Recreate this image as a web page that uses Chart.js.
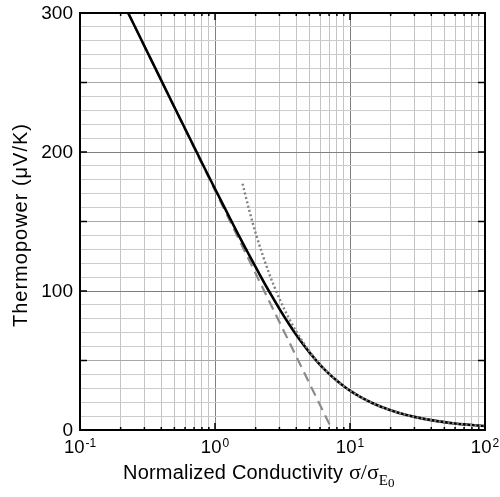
<!DOCTYPE html>
<html>
<head>
<meta charset="utf-8">
<script src="https://cdn.jsdelivr.net/npm/chart.js@4.4.1/dist/chart.umd.min.js"></script>
<style>
  html, body { margin: 0; padding: 0; background: #fff; }
  #wrap { width: 500px; height: 497px; }
</style>
</head>
<body>
<div id="wrap"><canvas id="c"></canvas></div>
<script>
const SANS = "'Liberation Sans', Arial, sans-serif";
const SERIF = "'Liberation Serif', 'Times New Roman', serif";

const X_DECADES = [0.1, 1, 10, 100];
const X_EXPONENTS = ["-1", "0", "1", "2"];
const Y_LABELS = [0, 100, 200, 300];

// full (Fermi-Dirac) curve, solid black
const FULL_X = [0.2014, 0.3133, 0.4741, 0.6931, 0.8259, 0.9741, 1.1369, 1.3133, 1.5019, 1.7014,
  1.9102, 2.1269, 2.3502, 2.5789, 3.0486, 3.5298, 4.018, 4.511, 5.0067, 6.0025,
  7.0009, 8.0003, 9, 10, 12, 15, 20, 25, 30, 40, 50, 60, 70, 80, 100];
const FULL_S = [310.5, 272.5, 236.9, 204.5, 189.6, 175.7, 162.8, 150.9, 139.9, 129.9,
  120.7, 112.4, 104.8, 98.0, 86.1, 76.3, 68.2, 61.5, 55.8, 46.9,
  40.4, 35.4, 31.5, 28.3, 23.6, 18.9, 14.2, 11.3, 9.45, 7.09, 5.67, 4.72, 4.05, 3.54, 2.83];

// non-degenerate limit, dashed
const NONDEG_X = [0.2274, 0.5, 1, 2, 4, 7.389];
const NONDEG_S = [300, 232.1, 172.3, 112.6, 52.9, 0];

// degenerate limit, dotted
const DEG_X = [1.6, 1.8, 2, 2.5, 3, 3.5, 4, 5, 6, 8, 10, 15, 20, 30, 50, 70, 100];
const DEG_S = [177.2, 157.5, 141.7, 113.4, 94.5, 81.0, 70.9, 56.7, 47.2, 35.4, 28.3, 18.9, 14.2, 9.45, 5.67, 4.05, 2.83];

const pts = (xs, ys) => xs.map((x, i) => ({ x, y: ys[i] }));

const xTicks = [];
X_DECADES.forEach((d, i) => {
  xTicks.push(d);
  if (i < X_DECADES.length - 1) for (let m = 2; m <= 9; m++) xTicks.push(+(d * m).toPrecision(3));
});
const yTicks = [];
for (let v = 0; v <= 300; v += 10) yTicks.push(v);

const isDecade = (v) => X_DECADES.some((d) => Math.abs(d - v) < 1e-9);

const decor = {
  id: "decor",
  afterDraw(chart) {
    const { ctx, chartArea: a, scales } = chart;
    const xs = scales.x, ys = scales.y;
    ctx.save();
    ctx.strokeStyle = "#000";
    ctx.lineWidth = 2;
    ctx.strokeRect(a.left, a.top, a.right - a.left, a.bottom - a.top);

    // inward ticks
    ctx.lineWidth = 1.5;
    ctx.beginPath();
    xTicks.forEach((v) => {
      const px = xs.getPixelForValue(v);
      const len = isDecade(v) ? 7 : 3;
      ctx.moveTo(px, a.top); ctx.lineTo(px, a.top + len);
      ctx.moveTo(px, a.bottom); ctx.lineTo(px, a.bottom - len);
    });
    for (let v = 0; v <= 300; v += 50) {
      const py = ys.getPixelForValue(v);
      ctx.moveTo(a.left, py); ctx.lineTo(a.left + 7, py);
      ctx.moveTo(a.right, py); ctx.lineTo(a.right - 7, py);
    }
    ctx.stroke();

    ctx.fillStyle = "#000";
    // y labels
    ctx.font = "19px " + SANS;
    ctx.textAlign = "right";
    ctx.textBaseline = "middle";
    Y_LABELS.forEach((v) => ctx.fillText(String(v), a.left - 7, ys.getPixelForValue(v) + 1));

    // x labels 10^n
    ctx.textBaseline = "alphabetic";
    ctx.textAlign = "left";
    X_DECADES.forEach((d, i) => {
      ctx.font = "18.5px " + SANS;
      const wb = ctx.measureText("10").width;
      ctx.font = "12px " + SANS;
      const we = ctx.measureText(X_EXPONENTS[i]).width;
      const x0 = xs.getPixelForValue(d) - (wb + we + 1) / 2;
      const base = a.bottom + 23;
      ctx.font = "18.5px " + SANS;
      ctx.fillText("10", x0, base);
      ctx.font = "12px " + SANS;
      ctx.fillText(X_EXPONENTS[i], x0 + wb + 1, base - 6);
    });

    // x title
    let tx = 123;
    const tb = 479;
    const part = (t, font, dy, sp) => {
      ctx.font = font;
      ctx.letterSpacing = (sp || 0) + "px";
      ctx.fillText(t, tx, tb + (dy || 0));
      tx += ctx.measureText(t).width;
    };
    part("Normalized Conductivity ", "20px " + SANS, 0, 0.2);
    part("σ/σ", "22px " + SERIF);
    part("E", "15px " + SERIF, 6);
    part("0", "13px " + SERIF, 8);
    ctx.letterSpacing = "0px";

    // y title
    ctx.translate(21, 225);
    ctx.rotate(-Math.PI / 2);
    ctx.textAlign = "center";
    ctx.textBaseline = "middle";
    ctx.font = "20px " + SANS;
    ctx.letterSpacing = "1px";
    ctx.fillText("Thermopower (μV/K)", 0, 0);
    ctx.restore();
  },
};

new Chart(document.getElementById("c"), {
  type: "line",
  data: {
    datasets: [
      { data: pts(DEG_X, DEG_S), borderColor: "#808080", borderWidth: 2.4, borderDash: [2, 2.5], order: 0 },
      { data: pts(FULL_X, FULL_S), borderColor: "#000", borderWidth: 2.6, order: 1 },
      { data: pts(NONDEG_X, NONDEG_S), borderColor: "#8a8a8a", borderWidth: 2.2, borderDash: [10, 6], order: 2 },
    ],
  },
  options: {
    responsive: true,
    maintainAspectRatio: false,
    animation: false,
    layout: { padding: { left: 80, right: 15, top: 13, bottom: 67 } },
    elements: { point: { radius: 0 }, line: { cubicInterpolationMode: "monotone", fill: false } },
    plugins: { legend: { display: false }, tooltip: { enabled: false } },
    scales: {
      x: {
        type: "logarithmic",
        min: 0.1,
        max: 100,
        afterBuildTicks: (s) => { s.ticks = xTicks.map((value) => ({ value })); },
        afterFit: (s) => { s.height = 0; },
        ticks: { display: false, autoSkip: false },
        border: { display: false },
        grid: {
          drawTicks: false,
          color: (c) => (isDecade(c.tick.value) ? "#808080" : "#c4c4c4"),
          lineWidth: 1,
        },
      },
      y: {
        min: 0,
        max: 300,
        afterBuildTicks: (s) => { s.ticks = yTicks.map((value) => ({ value })); },
        afterFit: (s) => { s.width = 0; },
        ticks: { display: false, autoSkip: false },
        border: { display: false },
        grid: {
          drawTicks: false,
          color: (c) => (c.tick.value % 100 === 0 ? "#808080" : c.tick.value % 50 === 0 ? "#a8a8a8" : "#cccccc"),
          lineWidth: 1,
        },
      },
    },
  },
  plugins: [decor],
});
</script>
</body>
</html>
